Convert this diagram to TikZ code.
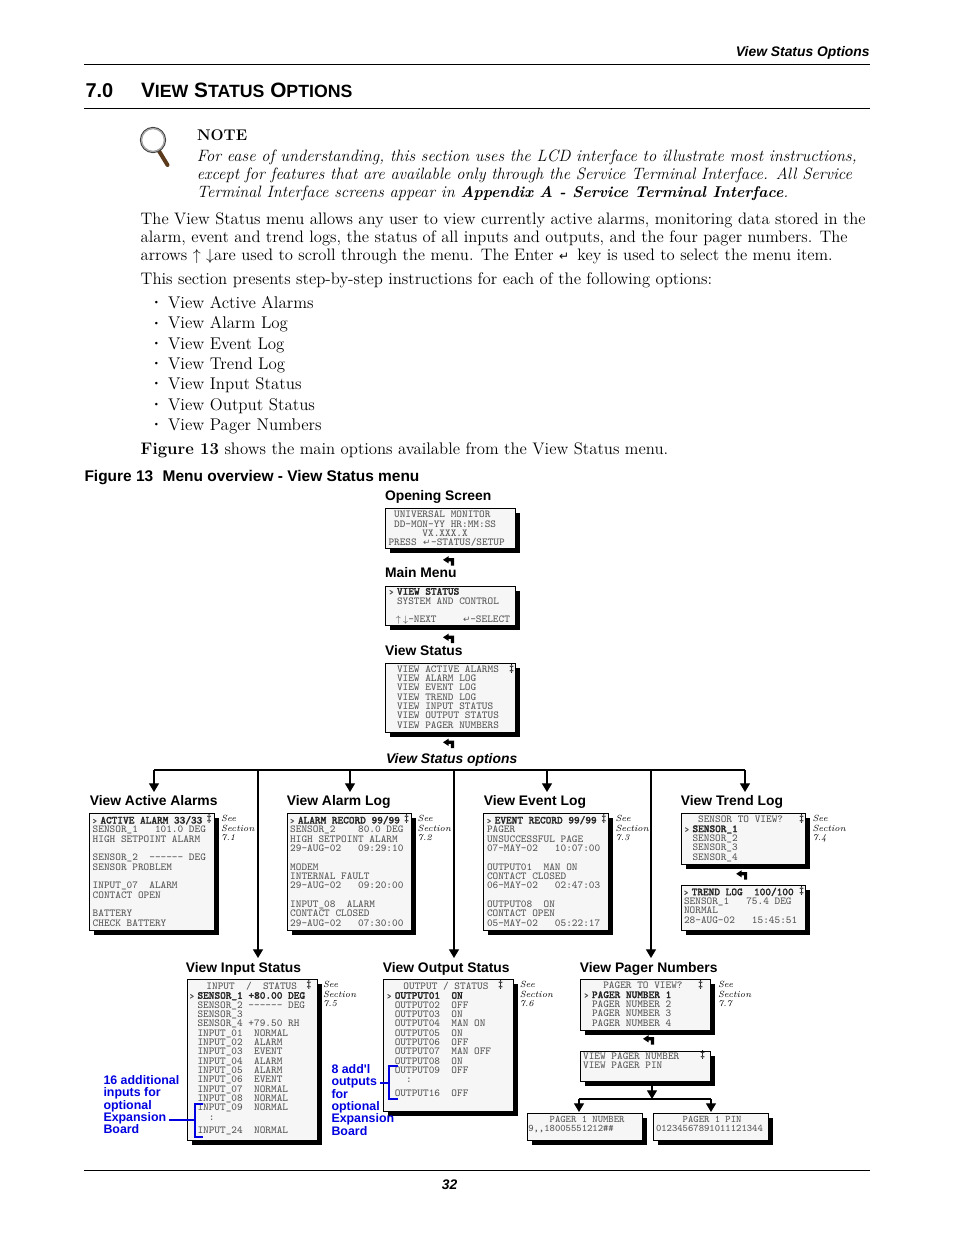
\documentclass[tikz,border=0pt]{standalone}
\usepackage{fontspec}
\usetikzlibrary{arrows.meta,shadows}
\newfontfamily\helvfont{Liberation Sans}
\newfontfamily\symbfont{DejaVu Sans}
\newfontfamily\lcdboldfont[FakeBold=2.2]{Latin Modern Mono}
\definecolor{lcdfill}{RGB}{246,246,246}
\definecolor{lcdink}{RGB}{85,85,85}
\definecolor{noteblue}{RGB}{0,0,224}
\definecolor{handlebrown}{RGB}{92,58,28}
\newcommand{\selmark}{\makebox[5.8pt][l]{\lcdboldfont\fontsize{6}{7}\selectfont >}}
\newcommand{\selline}[1]{{\color{black!85}\lcdboldfont\fontsize{8}{7}\selectfont #1}}
\newcommand{\retsym}{{\symbfont\fontsize{6.5}{7}\selectfont ↵}}
\tikzset{
  every picture/.style={line width=0.75pt},
  bodytext/.style={anchor=north west,inner sep=0pt,align=left,font=\fontsize{12.47}{13.5}\selectfont},
  boldhead/.style={anchor=base west,inner sep=0pt,font=\helvfont\bfseries\fontsize{10.4}{12}\selectfont},
  bluetext/.style={anchor=north west,inner sep=0pt,align=left,text=noteblue,font=\helvfont\bfseries\fontsize{9.3}{9.25}\selectfont},
  bluebar/.style={draw=noteblue,line width=1.5pt},
  pagerule/.style={line width=0.75pt},
  lcd/.style={anchor=north west,inner sep=0pt,draw=black,fill=lcdfill,line width=0.75pt,
    general shadow={fill=black,shadow xshift=3pt,shadow yshift=-3.2pt}},
  lcdtext/.style={anchor=north west,inner sep=0pt,align=left,text=lcdink,font=\ttfamily\fontsize{8}{7}\selectfont},
  seesec/.style={anchor=north west,inner sep=0pt,align=left,font=\itshape\fontsize{6.7}{7.2}\selectfont},
  scrollmark/.style={inner sep=0pt,font=\bfseries\fontsize{7.5}{8}\selectfont},
  busline/.style={line width=0.9pt},
  busarrow/.style={line width=0.9pt,-{Triangle[width=7.5pt,length=6.5pt]}},
  enterarrow/.pic={
    \fill (2.4,-4.5) -- (5.5,-4.5) -- (5.5,2.8) -- (0,2.8) -- (0,4.8) -- (-5.5,1.2) -- (0,-2.4) -- (0,-0.4) -- (2.4,-0.4) -- cycle;
  }
}
\begin{document}
\begin{tikzpicture}[x=0.75pt,y=0.75pt,yscale=-1,xscale=1]
\useasboundingbox [fill=white] (0,0) rectangle (954,1235);

% Page header and rules
\node [anchor=base east,inner sep=0pt,font=\helvfont\bfseries\itshape\fontsize{10.4}{12}\selectfont] (pagehead) at (870,56) {View Status Options};
\coordinate (headl) at (84,64.5); \coordinate (headr) at (870,64.5);
\draw [pagerule] (headl) -- (headr);
\node [anchor=base west,inner sep=0pt,font=\helvfont\bfseries\fontsize{15}{18}\selectfont] (secnum) at (85,97.5) {7.0};
\node [anchor=base west,inner sep=0pt,font=\helvfont\bfseries\fontsize{15.6}{18}\selectfont] (sectitle) at (140.5,97.5) {V{\fontsize{13.3}{18}\selectfont IEW} S{\fontsize{13.3}{18}\selectfont TATUS} O{\fontsize{13.3}{18}\selectfont PTIONS}};
\coordinate (secl) at (84,108.5); \coordinate (secr) at (870,108.5);
\draw [pagerule] (secl) -- (secr);

% Magnifier
\draw [line width=3pt,color=handlebrown,line cap=round] (159,151) -- (167.5,165);
\draw [line width=0.9pt,color=black!75] (153,140) circle [radius=12.5];
\draw [line width=1pt,color=black!35] (153,140) circle [radius=11.4];

% Note
\node [anchor=base west,inner sep=0pt,font=\bfseries\fontsize{11.6}{14}\selectfont] (notehead) at (196.5,140) {NOTE};
\node [bodytext,font=\itshape\fontsize{12.35}{13.5}\selectfont] (notetext) at (196.3,149) {For ease of understanding, this section uses the LCD interface to illustrate most instructions,\\
except for features that are available only through the Service Terminal Interface. All Service\\
Terminal Interface screens appear in {\bfseries\fontsize{11.7}{13.5}\selectfont Appendix A - Service Terminal Interface}.};

% Body
\node [bodytext] (para) at (140.2,212) {The View Status menu allows any user to view currently active alarms, monitoring data stored in the\\
alarm, event and trend logs, the status of all inputs and outputs, and the four pager numbers. The\\
arrows $\uparrow$ $\downarrow$are used to scroll through the menu. The Enter {\symbfont\fontsize{9}{9}\selectfont ↵}\, key is used to select the menu item.};
\node [bodytext,font=\fontsize{12.55}{13.5}\selectfont] (intro) at (140.2,272) {This section presents step-by-step instructions for each of the following options:};
\node [bodytext,font=\fontsize{12.7}{15.25}\selectfont] (optlist) at (167.5,296) {View Active Alarms\\View Alarm Log\\View Event Log\\View Trend Log\\View Input Status\\View Output Status\\View Pager Numbers};
\foreach \y [count=\i] in {303,323.5,344,364,384,405,425}
  \node [inner sep=0pt,font=\fontsize{6.5}{7}\selectfont] (dot\i) at (156.5,\y) {\textbullet};
\node [bodytext,font=\fontsize{12.55}{13.5}\selectfont] (figref) at (140.2,442) {{\bfseries Figure 13} shows the main options available from the View Status menu.};
\node [boldhead,font=\helvfont\bfseries\fontsize{11.6}{12}\selectfont] (figtitle) at (84,481) {Figure 13\,\, Menu overview - View Status menu};

% Screens
\foreach \name/\x/\y/\w/\h in {opening/385/508/130/40,mainmenu/385/586/130/39,statusmenu/385/663/130/69,
  alarms/89/813/125/117,alarmlog/287/813/124/117,eventlog/483/813/125/117,trendsel/681/813/124/51,trendlog/681/885/124/45,
  inputs/187/979/130/161,outputs/383/979/130/132,pagersel/580/979/130/51,pagermenu/580/1051/130/30,pagernum/527/1113/115/27,pagerpin/653/1113/115/27}
  \node [lcd,minimum width=\w*0.75pt,minimum height=\h*0.75pt] (\name) at (\x,\y) {};

% Headings
\node [boldhead] (openhead) at (384.5,500) {Opening Screen};
\node [boldhead] (mainhead) at (384.5,577) {Main Menu};
\node [boldhead] (statushead) at (384.5,655) {View Status};
\node [boldhead,font=\helvfont\bfseries\itshape\fontsize{10.4}{12}\selectfont] (optionshead) at (385.5,763) {View Status options};
\node [boldhead] (alarmshead) at (89.3,805) {View Active Alarms};
\node [boldhead] (loghead) at (286.3,805) {View Alarm Log};
\node [boldhead] (eventhead) at (483.3,805) {View Event Log};
\node [boldhead] (trendhead) at (680.3,805) {View Trend Log};
\node [boldhead] (inputhead) at (185.3,972) {View Input Status};
\node [boldhead] (outputhead) at (382.3,972) {View Output Status};
\node [boldhead] (pagerhead) at (579.3,972) {View Pager Numbers};

% Screen text
\node [lcdtext] (opentext) at (388,510.5) {~UNIVERSAL MONITOR\\~DD-MON-YY HR:MM:SS\\~~~~~~VX.XXX.X\\PRESS~\makebox[6.5pt]{\retsym}-STATUS/SETUP};
\node [lcdtext] (maintext) at (396.5,587.5) {\llap{\selmark}\selline{VIEW STATUS}\\SYSTEM AND CONTROL\\~\\~~\llap{{\fontsize{7.5}{7}\selectfont$\uparrow\,\downarrow$}}-NEXT~~~~~\hspace{4pt}\llap{\retsym}-SELECT};
\node [lcdtext] (statustext) at (396.5,665) {VIEW ACTIVE ALARMS\\VIEW ALARM LOG\\VIEW EVENT LOG\\VIEW TREND LOG\\VIEW INPUT STATUS\\VIEW OUTPUT STATUS\\VIEW PAGER NUMBERS};
\node [lcdtext] (alarmstext) at (92.2,815.6) {\selmark\selline{ACTIVE ALARM 33/33}\\SENSOR\_1~~~101.0 DEG\\HIGH SETPOINT ALARM\\~\\SENSOR\_2~~------ DEG\\SENSOR PROBLEM\\~\\INPUT\_07~~ALARM\\CONTACT OPEN\\~\\BATTERY\\CHECK BATTERY};
\node [lcdtext] (logtext) at (289.7,815.6) {\selmark\selline{ALARM RECORD 99/99}\\SENSOR\_2~~~~80.0 DEG\\HIGH SETPOINT ALARM\\29-AUG-02~~~09:29:10\\~\\MODEM\\INTERNAL FAULT\\29-AUG-02~~~09:20:00\\~\\INPUT\_08~~ALARM\\CONTACT CLOSED\\29-AUG-02~~~07:30:00};
\node [lcdtext] (eventtext) at (486.5,815.6) {\selmark\selline{EVENT RECORD 99/99}\\PAGER\\UNSUCCESSFUL PAGE\\07-MAY-02~~~10:07:00\\~\\OUTPUT01~~MAN ON\\CONTACT CLOSED\\06-MAY-02~~~02:47:03\\~\\OUTPUT08~~ON\\CONTACT OPEN\\05-MAY-02~~~05:22:17};
\node [lcdtext] (trendseltext) at (692,815.6) {~SENSOR TO VIEW?\\\llap{\selmark}\selline{SENSOR\_1}\\SENSOR\_2\\SENSOR\_3\\SENSOR\_4};
\node [lcdtext] (trendlogtext) at (683.5,887.3) {\selmark\selline{TREND LOG~~100/100}\\SENSOR\_1~~~75.4 DEG\\NORMAL\\28-AUG-02~~~15:45:51};
\node [lcdtext] (inputtext) at (197,981.5) {\hspace*{6.7pt}INPUT~~/~~STATUS\\\llap{\selmark}\selline{SENSOR\_1 +80.00 DEG}\\SENSOR\_2 ------ DEG\\SENSOR\_3\\SENSOR\_4 +79.50 RH\\INPUT\_01~~NORMAL\\INPUT\_02~~ALARM\\INPUT\_03~~EVENT\\INPUT\_04~~ALARM\\INPUT\_05~~ALARM\\INPUT\_06~~EVENT\\INPUT\_07~~NORMAL\\INPUT\_08~~NORMAL\\INPUT\_09~~NORMAL\\~~:\\[3.1pt]INPUT\_24~~NORMAL};
\node [lcdtext] (outputtext) at (394.3,981.5) {\hspace*{6.5pt}OUTPUT / STATUS\\\llap{\selmark}\selline{OUTPUT01~~ON}\\OUTPUT02~~OFF\\OUTPUT03~~ON\\OUTPUT04~~MAN ON\\OUTPUT05~~ON\\OUTPUT06~~OFF\\OUTPUT07~~MAN OFF\\OUTPUT08~~ON\\OUTPUT09~~OFF\\~~:\\[3.1pt]OUTPUT16~~OFF};
\node [lcdtext] (pagerseltext) at (591.5,981.5) {~~PAGER TO VIEW?\\\llap{\selmark}\selline{PAGER NUMBER 1}\\PAGER NUMBER 2\\PAGER NUMBER 3\\PAGER NUMBER 4};
\node [lcdtext] (pagermenutext) at (582.6,1052.2) {VIEW PAGER NUMBER\\VIEW PAGER PIN};
\node [lcdtext,font=\ttfamily\fontsize{7.55}{7}\selectfont] (pagernumtext) at (527.8,1115.5) {~~~~PAGER 1 NUMBER\\9,,18005551212\#\#};
\node [lcdtext,font=\ttfamily\fontsize{7.55}{7}\selectfont] (pagerpintext) at (655.5,1115.5) {~~~~~PAGER 1 PIN\\01234567891011121344};

% Scroll marks
\foreach \name/\x/\y in {statusscroll/511.7/668.5,alarmscroll/209.3/819,logscroll/406.7/819,eventscroll/604/819,trendscroll/801.7/819,
  trendlogscroll/801.7/890.7,inputscroll/309/985,outputscroll/500.7/985,pagerscroll/700.7/985,pagermenuscroll/702.7/1055}
  \node [scrollmark] (\name) at (\x,\y) {\ddag};

% See Section notes
\foreach \name/\x/\y/\num in {see71/220.7/815/7.1,see72/417.2/815/7.2,see73/615/815/7.3,see74/812/815/7.4,
  see75/322.5/981/7.5,see76/519.3/981/7.6,see77/717.5/981/7.7}
  \node [seesec] (\name) at (\x,\y) {See\\Section\\\num};

% Enter arrows
\foreach \x/\y in {448.5/561,448.5/638.5,448.5/743.5,741.7/875,648.5/1040}
  \pic at (\x,\y) {enterarrow};

% Bus and branches
\coordinate (busl) at (154,770); \coordinate (busr) at (745,770);
\draw [busline] (busl) -- (busr);
\foreach \name/\x/\y in {dropa/154/792,dropb/350/792,dropc/547/792,dropd/745/792,dropin/258/958,dropout/454/958,droppg/651/958}{
  \coordinate (\name top) at (\x,770);
  \coordinate (\name) at (\x,\y);
  \draw [busarrow] (\name top) -- (\name);
}

% Pager split
\coordinate (pgsrc) at (652,1085); \coordinate (pgjoin) at (652,1099);
\coordinate (pgl) at (579,1099); \coordinate (pgr) at (711,1099);
\coordinate (pgltip) at (579,1112); \coordinate (pgrtip) at (711,1112);
\draw [busarrow] (pgsrc) -- (pgjoin);
\draw [busline] (pgl) -- (pgr);
\draw [busarrow] (pgl) -- (pgltip);
\draw [busarrow] (pgr) -- (pgrtip);

% Expansion notes
\node [bluetext] (inputnote) at (103,1075) {16 additional\\inputs for\\optional\\Expansion\\Board};
\node [bluetext] (outputnote) at (331,1064) {8 add'l\\outputs\\for\\optional\\Expansion\\Board};
\coordinate (inbarlead) at (169,1120); \coordinate (inbarmid) at (195,1120);
\draw [bluebar] (inbarlead) -- (inbarmid);
\draw [bluebar] (203,1104) -- (195,1104) -- (195,1137) -- (203,1137);
\coordinate (outbarlead) at (380,1083); \coordinate (outbarmid) at (389,1083);
\draw [bluebar] (outbarlead) -- (outbarmid);
\draw [bluebar] (398,1066) -- (389,1066) -- (389,1099) -- (398,1099);

% Page foot
\coordinate (footl) at (84,1170.5); \coordinate (footr) at (870,1170.5);
\draw [pagerule] (footl) -- (footr);
\node [anchor=base,inner sep=0pt,font=\helvfont\bfseries\itshape\fontsize{10.4}{12}\selectfont] (pagenum) at (449.5,1189) {32};
\end{tikzpicture}
\end{document}
